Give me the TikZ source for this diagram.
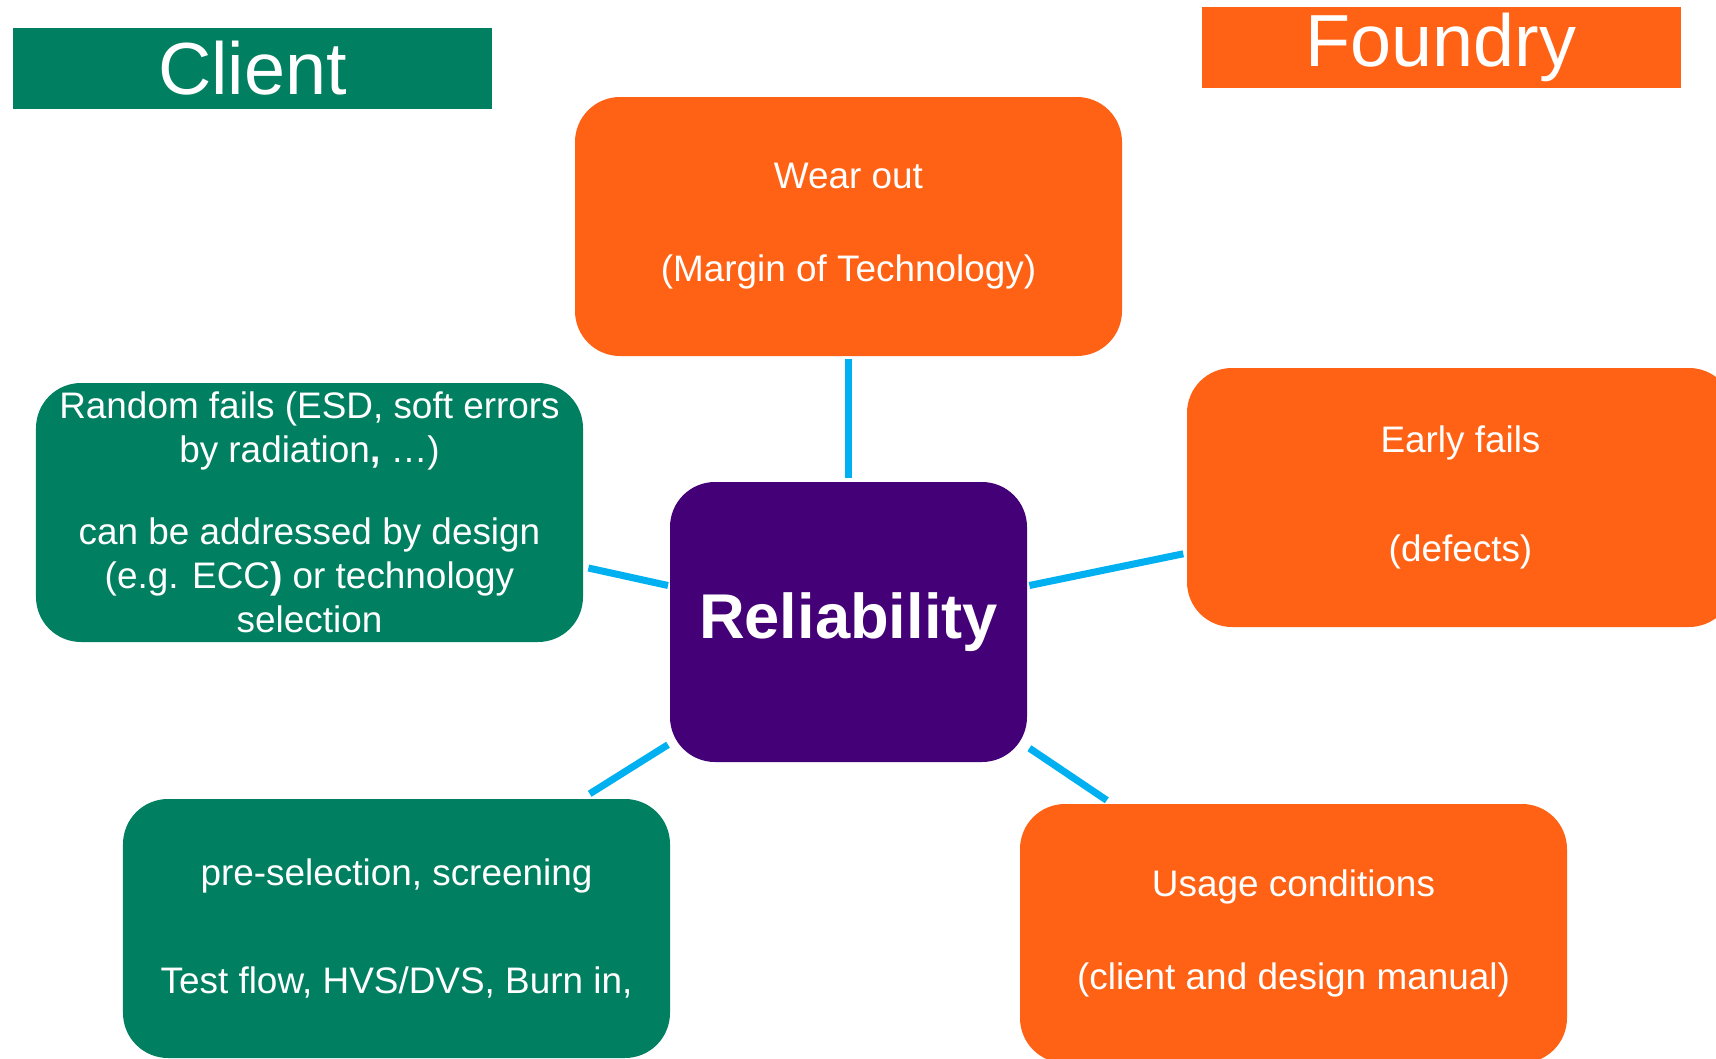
\documentclass[tikz,border=0pt]{standalone}
\usepackage{fontspec}
\setmainfont{Liberation Sans}
\usetikzlibrary{positioning,calc}
\definecolor{clientgreen}{RGB}{0,128,96}
\definecolor{foundryorange}{RGB}{255,98,20}
\definecolor{corepurple}{RGB}{68,0,118}
\definecolor{linkblue}{RGB}{0,176,240}

\begin{document}
\begin{tikzpicture}[
    banner/.style={rectangle, text=white, minimum width=4.79cm, minimum height=0.81cm, inner sep=0pt, font=\fontsize{21}{25}\selectfont},
    topic/.style={rectangle, rounded corners=0.45cm, text=white, minimum width=5.47cm, minimum height=2.59cm, inner sep=0pt, align=center, font=\fontsize{10.5}{12.5}\selectfont},
    clientbox/.style={topic, fill=clientgreen},
    foundrybox/.style={topic, fill=foundryorange},
    core/.style={rectangle, rounded corners=0.45cm, fill=corepurple, text=white, minimum width=3.57cm, minimum height=2.8cm, font=\fontsize{18}{21}\selectfont\bfseries},
    link/.style={draw=linkblue, line width=2pt}
]
    \useasboundingbox (0,0) rectangle (17.16,-10.59);

    % Headings
    \node[banner, fill=clientgreen] (client) at (2.525,-0.685) {Client};
    \node[banner, fill=foundryorange] (foundry) at (14.41,-0.475) {Foundry};

    % Centre
    \node[core] (rel) at (8.485,-6.22) {Reliability};

    % Foundry side
    \node[foundrybox] (wear) at (8.485,-2.265) {Wear out\\[13.9pt](Margin of Technology)};
    \node[foundrybox] (early) at (14.605,-4.975) {Early fails\\[18.3pt](defects)};
    \node[foundrybox] (usage) at (12.935,-9.335) {Usage conditions\\[13.9pt](client and design manual)};

    % Client side
    \node[clientbox] (random) at (3.095,-5.125) {Random fails (ESD, soft errors\\by radiation\textbf{,} …)\\[10.8pt]can be addressed by design\\(e.g. ECC\textbf{)} or technology\\selection};
    \node[clientbox] (screen) at (3.965,-9.285) {pre-selection, screening\\[18.3pt]Test flow, HVS/DVS, Burn in,};

    % Links to the centre
    \draw[link] ([yshift=-0.02cm]wear.south) -- ([yshift=0.03cm]rel.north);
    \draw[link] ([shift={(0.047,-0.555)}]random.east) -- ([shift={(-0.013,0.365)}]rel.west);
    \draw[link] ([shift={(0.017,0.365)}]rel.east) -- ([shift={(-0.03,-0.563)}]early.west);
    \draw[link] ([shift={(-0.013,0.18)}]rel.south west) -- ([shift={(-0.81,0.045)}]screen.north east);
    \draw[link] ([shift={(0.017,0.145)}]rel.south east) -- ([shift={(0.875,0.03)}]usage.north west);
\end{tikzpicture}
\end{document}
